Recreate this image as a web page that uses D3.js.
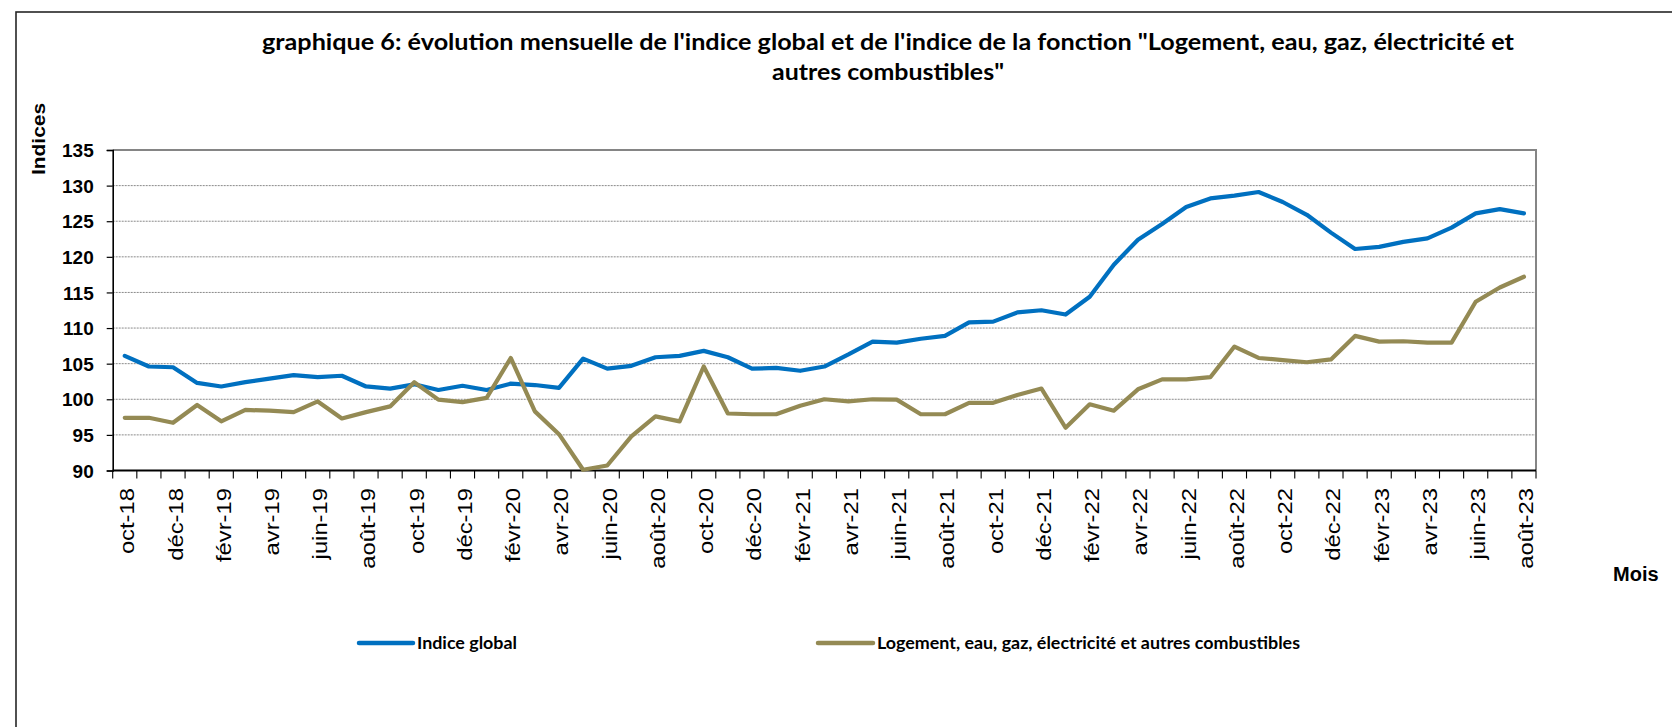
<!DOCTYPE html>
<html>
<head>
<meta charset="utf-8">
<script src="https://cdn.jsdelivr.net/npm/d3@7"></script>
<style>
  body { margin: 0; background: #fff; }
  svg { display: block; }
</style>
</head>
<body>
<div id="chart"></div>
<script>
// monthly data, oct-18 .. août-23
const months = [
  'oct-18','nov-18','déc-18',
  'janv-19','févr-19','mars-19','avr-19','mai-19','juin-19','juil-19','août-19','sept-19','oct-19','nov-19','déc-19',
  'janv-20','févr-20','mars-20','avr-20','mai-20','juin-20','juil-20','août-20','sept-20','oct-20','nov-20','déc-20',
  'janv-21','févr-21','mars-21','avr-21','mai-21','juin-21','juil-21','août-21','sept-21','oct-21','nov-21','déc-21',
  'janv-22','févr-22','mars-22','avr-22','mai-22','juin-22','juil-22','août-22','sept-22','oct-22','nov-22','déc-22',
  'janv-23','févr-23','mars-23','avr-23','mai-23','juin-23','juil-23','août-23'
];

const indiceGlobal = [
  106.1, 104.6, 104.5, 102.3, 101.8, 102.4, 102.9, 103.4, 103.1, 103.3,
  101.8, 101.5, 102.1, 101.3, 101.9, 101.3, 102.2, 102.0, 101.6, 105.7,
  104.3, 104.7, 105.9, 106.1, 106.8, 105.9, 104.3, 104.4, 104.0, 104.6,
  106.3, 108.1, 107.95, 108.5, 108.9, 110.8, 110.9, 112.2, 112.5, 111.9,
  114.4, 118.9, 122.4, 124.6, 127.0, 128.2, 128.6, 129.1, 127.7, 125.9,
  123.4, 121.1, 121.4, 122.1, 122.6, 124.1, 126.1, 126.7, 126.1
];

const logement = [
  97.4, 97.4, 96.7, 99.2, 96.9, 98.5, 98.4, 98.2, 99.7, 97.3,
  98.2, 99.0, 102.4, 99.95, 99.6, 100.2, 105.8, 98.3, 95.1, 90.1,
  90.7, 94.8, 97.6, 96.9, 104.6, 98.0, 97.9, 97.9, 99.1, 100.0,
  99.7, 100.0, 99.95, 97.9, 97.9, 99.5, 99.5, 100.6, 101.5, 96.0,
  99.3, 98.4, 101.4, 102.8, 102.8, 103.1, 107.4, 105.8, 105.5, 105.2,
  105.6, 108.9, 108.1, 108.15, 107.95, 107.95, 113.7, 115.7, 117.2
];

const yTicks = [90, 95, 100, 105, 110, 115, 120, 125, 130, 135];

const seriesNames = ['Indice global', 'Logement, eau, gaz, électricité et autres combustibles'];
const seriesColors = ['#0070C0', '#948A54'];

const titleLines = [
  'graphique 6: évolution mensuelle de l\'indice global et de l\'indice de la fonction "Logement, eau, gaz, électricité et',
  'autres combustibles"'
];

const width = 1672, height = 727;
const plot = { left: 112.7, right: 1536, top: 150, bottom: 470.5 };

const svg = d3.select('#chart').append('svg')
  .attr('width', width)
  .attr('height', height)
  .style('font-family', 'Liberation Sans, Arial, sans-serif');

// outer chart frame (only left and top edges are in view)
svg.append('rect')
  .attr('x', 16).attr('y', 12)
  .attr('width', 1700).attr('height', 800)
  .attr('fill', 'none')
  .attr('stroke', '#262626')
  .attr('stroke-width', 1.6);

const x = d3.scaleBand().domain(months).range([plot.left, plot.right]).padding(0);
const y = d3.scaleLinear().domain([90, 135]).range([plot.bottom, plot.top]);

// gridlines
svg.append('g')
  .selectAll('line')
  .data(yTicks.filter(v => v > 90 && v < 135))
  .join('line')
  .attr('x1', plot.left).attr('x2', plot.right)
  .attr('y1', d => y(d)).attr('y2', d => y(d))
  .attr('stroke', '#8a8a8a')
  .attr('stroke-width', 1)
  .attr('stroke-dasharray', '2,1');

// plot border, top and right
svg.append('path')
  .attr('d', `M${plot.left},${plot.top}H${plot.right}V${plot.bottom}`)
  .attr('fill', 'none')
  .attr('stroke', '#858585')
  .attr('stroke-width', 2);

// y axis
const yAxis = svg.append('g')
  .attr('transform', `translate(${plot.left},0)`)
  .call(d3.axisLeft(y).tickValues(yTicks).tickSize(6).tickPadding(13));
yAxis.select('.domain').attr('stroke', '#000').attr('stroke-width', 1.6);
yAxis.selectAll('.tick line').attr('stroke', '#000').attr('stroke-width', 1.2);
yAxis.selectAll('.tick text')
  .attr('font-family', 'Liberation Sans, Arial, sans-serif')
  .attr('font-size', 19)
  .attr('font-weight', 'bold')
  .attr('fill', '#000')
  .attr('dy', '0.35em');

// x axis line and category boundary ticks
svg.append('line')
  .attr('x1', plot.left).attr('x2', plot.right)
  .attr('y1', plot.bottom).attr('y2', plot.bottom)
  .attr('stroke', '#000')
  .attr('stroke-width', 2);

const bounds = months.map(m => x(m)).concat([plot.right]);
svg.append('g')
  .selectAll('line')
  .data(bounds)
  .join('line')
  .attr('x1', d => d).attr('x2', d => d)
  .attr('y1', plot.bottom).attr('y2', plot.bottom + 8)
  .attr('stroke', '#000')
  .attr('stroke-width', 1.1);

// x labels, every second month, rotated
svg.append('g')
  .selectAll('text')
  .data(months.filter((m, i) => i % 2 === 0))
  .join('text')
  .attr('transform', d => `translate(${x(d) + x.bandwidth() / 2 + 9.5},488) rotate(-90) scale(1.19,1)`)
  .attr('text-anchor', 'end')
  .attr('font-size', 20)
  .attr('fill', '#000')
  .text(d => d);

// series lines
const line = d3.line()
  .x((d, i) => x(months[i]) + x.bandwidth() / 2)
  .y(d => y(d));

[indiceGlobal, logement].forEach((vals, k) => {
  svg.append('path')
    .datum(vals)
    .attr('d', line)
    .attr('fill', 'none')
    .attr('stroke', seriesColors[k])
    .attr('stroke-width', 4.2)
    .attr('stroke-linejoin', 'round')
    .attr('stroke-linecap', 'round');
});

// title
const titleFont = 'Lato, "Open Sans", sans-serif';
svg.append('text')
  .attr('x', 888).attr('y', 50)
  .attr('text-anchor', 'middle')
  .attr('font-family', titleFont)
  .attr('font-weight', 'bold')
  .attr('font-size', 22)
  .attr('textLength', 1252)
  .attr('lengthAdjust', 'spacingAndGlyphs')
  .text(titleLines[0]);
svg.append('text')
  .attr('x', 888).attr('y', 80)
  .attr('text-anchor', 'middle')
  .attr('font-family', titleFont)
  .attr('font-weight', 'bold')
  .attr('font-size', 22)
  .attr('textLength', 232)
  .attr('lengthAdjust', 'spacingAndGlyphs')
  .text(titleLines[1]);

// axis titles
svg.append('text')
  .attr('transform', 'translate(45,139) rotate(-90)')
  .attr('text-anchor', 'middle')
  .attr('font-size', 19)
  .attr('font-weight', 'bold')
  .attr('textLength', 72)
  .attr('lengthAdjust', 'spacingAndGlyphs')
  .text('Indices');

svg.append('text')
  .attr('x', 1613).attr('y', 581)
  .attr('font-size', 20)
  .attr('font-weight', 'bold')
  .text('Mois');

// legend
const legendItems = [
  { x1: 359, x2: 413, tx: 417, tw: 100 },
  { x1: 818, x2: 873, tx: 877, tw: 423 }
];
legendItems.forEach((it, k) => {
  svg.append('line')
    .attr('x1', it.x1).attr('x2', it.x2)
    .attr('y1', 643).attr('y2', 643)
    .attr('stroke', seriesColors[k])
    .attr('stroke-width', 4.5)
    .attr('stroke-linecap', 'round');
  svg.append('text')
    .attr('x', it.tx).attr('y', 649)
    .attr('font-family', titleFont)
    .attr('font-weight', 'bold')
    .attr('font-size', 17)
    .attr('textLength', it.tw)
    .attr('lengthAdjust', 'spacingAndGlyphs')
    .text(seriesNames[k]);
});
</script>
</body>
</html>
